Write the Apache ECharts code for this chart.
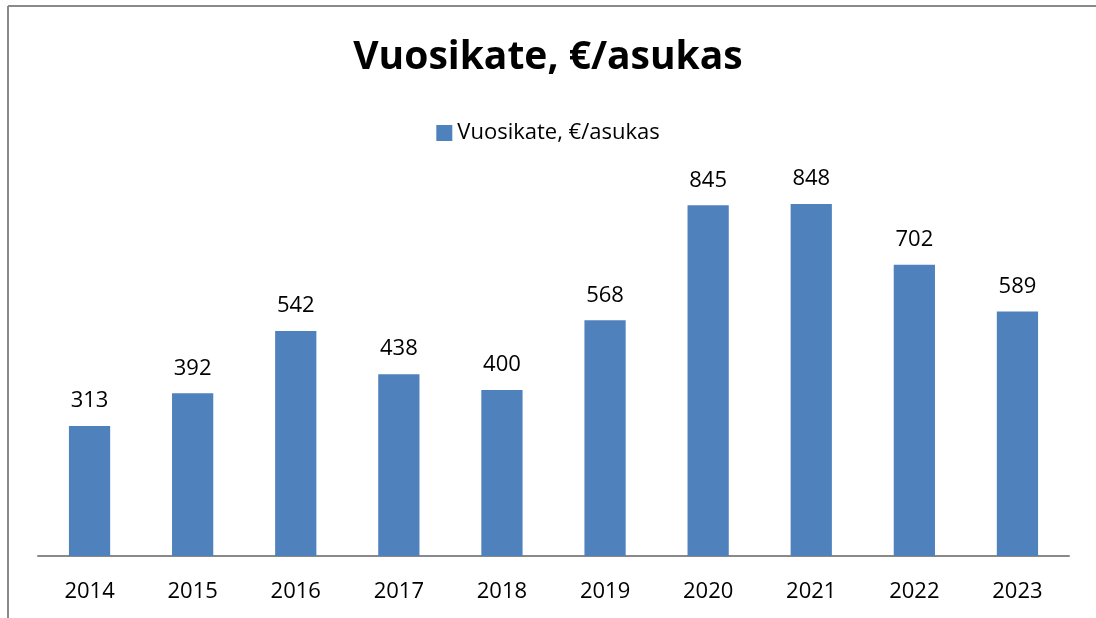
<!DOCTYPE html>
<html>
<head>
<meta charset="utf-8">
<script src="https://cdn.jsdelivr.net/npm/echarts@6/dist/echarts.min.js"></script>
<style>
  html, body { margin: 0; padding: 0; background: #fff; }
  #chart { width: 1096px; height: 618px; }
</style>
</head>
<body>
<div id="chart"></div>
<script>
const years = ['2014', '2015', '2016', '2017', '2018', '2019', '2020', '2021', '2022', '2023'];
const vuosikate = [313, 392, 542, 438, 400, 568, 845, 848, 702, 589];
const seriesName = 'Vuosikate, €/asukas';

const chart = echarts.init(document.getElementById('chart'));
const font = 'Open Sans, Noto Sans, sans-serif';

const option = {
    animation: false,
    backgroundColor: '#fff',
    title: {
        text: seriesName,
        left: 'center',
        top: 33,
        textStyle: {
            fontFamily: font,
            fontSize: 39,
            fontWeight: 'bold',
            color: '#000',
        },
    },
    legend: {
        top: 117,
        left: 'center',
        itemWidth: 16,
        itemHeight: 16,
        itemGap: 6,
        icon: 'rect',
        textStyle: { fontFamily: font, fontSize: 22, color: '#000' },
        data: [seriesName],
    },
    grid: { left: 38, right: 27, top: 141, bottom: 62 },
    xAxis: {
        type: 'category',
        data: years,
        axisLine: { lineStyle: { color: '#898989', width: 2 } },
        axisTick: { show: false },
        axisLabel: { fontFamily: font, fontSize: 22, color: '#000', margin: 25 },
    },
    yAxis: {
        type: 'value',
        min: 0,
        max: 1000,
        show: false,
    },
    graphic: [
        { type: 'line', shape: { x1: 8, y1: 6, x2: 1096, y2: 6 }, style: { stroke: '#8a8a8a', lineWidth: 2 } },
        { type: 'line', shape: { x1: 8, y1: 6, x2: 8, y2: 618 }, style: { stroke: '#8a8a8a', lineWidth: 2 } },
    ],
    series: [
        {
            name: seriesName,
            type: 'bar',
            data: vuosikate,
            barWidth: '40%',
            itemStyle: { color: '#4F81BD' },
            label: {
                show: true,
                position: 'top',
                distance: 14,
                fontFamily: font,
                fontSize: 22,
                color: '#000',
            },
        },
    ],
};

chart.setOption(option);
</script>
</body>
</html>
